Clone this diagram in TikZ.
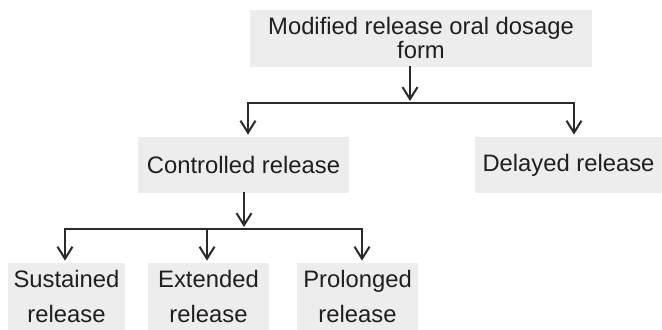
\documentclass[tikz,border=0pt]{standalone}
\usepackage{fontspec}
\setmainfont{Liberation Sans}
\usetikzlibrary{arrows.meta,positioning}
\definecolor{boxgray}{HTML}{EDEDED}
\definecolor{inkgray}{HTML}{2A2A2A}
\tikzset{box/.style={fill=boxgray,text=black!88,inner sep=0pt,align=center,font=\fontsize{11.9}{12}\selectfont},
  twoline/.style={box,font=\fontsize{11.9}{17.5}\selectfont,minimum height=33.5pt},
  link/.style={draw=inkgray,line width=1pt,line cap=rect},
  arr/.style={link,-{Straight Barb[length=6pt,width=7.5pt,line width=1pt]},shorten >=1pt}}

\begin{document}
\begin{tikzpicture}[x=0.5pt,y=-0.5pt]
    \useasboundingbox (0,0) rectangle (662,330);
    % boxes
    \node (mod) [box,minimum width=171pt,minimum height=28.5pt] at (421,38.5) {Modified release oral dosage\\form};
    \node (ctl) [box,minimum width=105.5pt,minimum height=28pt] at (243.5,165) {Controlled release};
    \node (dly) [box,minimum width=93.5pt,minimum height=28pt] at (568.5,165) {Delayed release};
    \node (sus) [twoline,minimum width=58.5pt] at (66.5,296.5) {Sustained\\release};
    \node (ext) [twoline,minimum width=60.5pt] at (208.5,296.5) {Extended\\release};
    \node (pro) [twoline,minimum width=60.5pt] at (357.5,296.5) {Prolonged\\release};
    % first split
    \coordinate (top) at (410,103);
    \coordinate (h1l) at (248,103);
    \coordinate (h1r) at (574,103);
    \draw[arr] (mod.south -| top) -- (top);
    \draw[arr] (h1r) -- (h1l) -- (ctl.north -| h1l);
    \draw[arr] (h1r) -- (dly.north -| h1r);
    % second split
    \coordinate (mid) at (244,229);
    \coordinate (h2l) at (65,229);
    \coordinate (h2m) at (207,229);
    \coordinate (h2r) at (362,229);
    \draw[arr] (ctl.south -| mid) -- (mid);
    \draw[arr] (h2r) -- (h2l) -- (sus.north -| h2l);
    \draw[arr] (h2m) -- (ext.north -| h2m);
    \draw[arr] (h2r) -- (pro.north -| h2r);
\end{tikzpicture}
\end{document}
